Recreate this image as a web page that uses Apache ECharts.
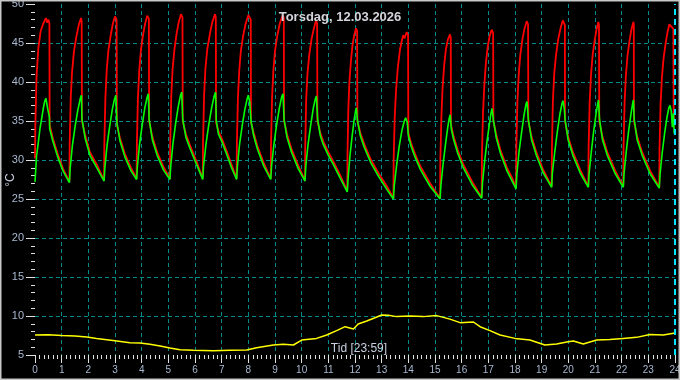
<!DOCTYPE html>
<html>
<head>
<meta charset="utf-8">
<script src="https://cdn.jsdelivr.net/npm/echarts@6/dist/echarts.min.js"></script>
<style>
html,body{margin:0;padding:0;background:#000;}
#chart{width:680px;height:380px;}
</style>
</head>
<body>
<div id="chart"></div>
<script>
const titleText = 'Torsdag, 12.03.2026';
const xAxisName = 'Tid [23:59]';
const yAxisName = '°C';
const nowHour = 23 + 59 / 60;

// Flow temperature (red), [hour, °C]
const flowTemp = [
[0,30.2],[0.01,34],[0.06,40.9],[0.125,44.3],[0.21,46.5],[0.31,47.5],[0.41,48.2],[0.46,47.6],[0.5,48.0],[0.54,47.5],[0.55,34.5],[0.67,32.8],[0.85,30.8],[1.05,28.9],[1.29,27.2],
[1.30,32],[1.34,38],[1.39,41.3],[1.46,43.9],[1.55,45.8],[1.64,47.3],[1.725,48.2],[1.75,47.8],[1.76,35.0],[1.88,33.2],[2.06,31.0],[2.32,29.4],[2.59,27.4],
[2.60,32],[2.64,38],[2.69,41.5],[2.75,44],[2.84,46],[2.92,47.5],[3.0,48.4],[3.06,48.0],[3.07,34.5],[3.19,32.8],[3.37,30.8],[3.6,29.0],[3.81,27.6],
[3.82,32],[3.86,38],[3.91,41.5],[3.97,44],[4.05,46],[4.13,47.5],[4.21,48.5],[4.27,48.1],[4.28,35.0],[4.4,33.0],[4.58,31.0],[4.82,29.1],[5.06,27.6],
[5.07,32],[5.11,38.2],[5.16,41.7],[5.23,44.2],[5.31,46.2],[5.39,47.7],[5.475,48.7],[5.53,48.3],[5.54,35.0],[5.66,33.3],[5.81,31.9],[6.06,29.8],[6.29,27.6],
[6.30,32],[6.34,38.2],[6.39,41.7],[6.46,44.2],[6.56,46.2],[6.65,47.7],[6.75,48.7],[6.78,48.3],[6.79,34.8],[6.88,33.7],[7.0,32.8],[7.19,31.1],[7.37,29.4],[7.56,27.6],
[7.57,32],[7.61,38],[7.66,41.5],[7.72,44],[7.81,46],[7.9,47.5],[8.0,48.6],[8.09,48.0],[8.1,34.8],[8.2,33.5],[8.34,31.8],[8.58,29.6],[8.84,27.6],
[8.85,32],[8.89,38],[8.94,41.5],[9.0,44],[9.09,46],[9.18,47.5],[9.29,48.6],[9.33,48.2],[9.34,35.0],[9.45,33.3],[9.62,31.4],[9.87,29.3],[10.125,27.4],
[10.135,32],[10.17,37.8],[10.22,41.2],[10.29,43.6],[10.37,45.5],[10.46,46.9],[10.54,47.9],[10.58,47.5],[10.59,35.0],[10.7,33.5],[10.81,32.4],[11.0,31.0],[11.19,29.8],[11.44,28.1],[11.71,26.0],
[11.72,31],[11.75,36.5],[11.79,40],[11.85,42.8],[11.91,44.8],[11.97,46.0],[12.04,46.9],[12.08,46.5],[12.09,35.0],[12.2,33.5],[12.35,32.0],[12.6,30.0],[12.9,28.2],[13.2,26.6],[13.44,25.1],
[13.45,30],[13.49,35.5],[13.54,39],[13.61,42],[13.69,44.2],[13.76,45.4],[13.81,46.0],[13.86,45.6],[13.94,46.4],[13.99,46.0],[14.0,33.5],[14.1,32.2],[14.25,30.8],[14.45,29.2],[14.82,27.0],[15.19,25.1],
[15.2,30],[15.24,35.5],[15.28,39],[15.34,42],[15.41,44.2],[15.48,45.4],[15.56,46.1],[15.59,45.7],[15.6,34.5],[15.7,33.0],[15.85,31.3],[16.05,29.5],[16.4,27.2],[16.75,25.2],
[16.76,30.5],[16.8,36],[16.85,39.6],[16.91,42.5],[16.98,44.6],[17.05,45.9],[17.125,46.7],[17.18,46.3],[17.19,35.0],[17.3,33.2],[17.46,31.2],[17.7,29.0],[17.92,27.5],[18.04,26.4],
[18.05,31.5],[18.09,37.5],[18.14,41],[18.2,43.5],[18.28,45.5],[18.36,46.9],[18.44,47.8],[18.49,47.4],[18.5,35.0],[18.62,33.0],[18.8,31.0],[19.05,28.8],[19.375,26.6],
[19.385,31.5],[19.42,37.5],[19.47,41],[19.54,43.5],[19.62,45.5],[19.71,46.9],[19.79,47.9],[19.87,47.3],[19.875,35.0],[19.99,33.0],[20.17,31.0],[20.45,28.7],[20.75,26.6],
[20.76,31.5],[20.8,37.4],[20.85,40.9],[20.91,43.4],[20.99,45.4],[21.06,46.8],[21.125,47.7],[21.15,47.3],[21.16,35.0],[21.28,33.0],[21.46,31.0],[21.75,28.7],[22.06,26.6],
[22.07,31.5],[22.11,37.4],[22.16,40.9],[22.22,43.4],[22.3,45.4],[22.37,46.8],[22.44,47.7],[22.455,47.3],[22.46,35.0],[22.58,33.0],[22.77,31.0],[23.07,28.6],[23.41,26.5],
[23.42,31.5],[23.46,37.2],[23.51,40.6],[23.57,43],[23.65,45],[23.72,46.4],[23.79,47.4],[23.86,47.1],[23.94,46.8],[23.95,35.4],[24,35.0]
];

// Return temperature (green), [hour, °C]
const returnTemp = [
[0,27.2],[0.06,30.6],[0.125,32.3],[0.19,34.1],[0.25,35.3],[0.31,36.6],[0.37,37.6],[0.41,37.9],[0.48,36.5],[0.54,35.5],[0.55,34.0],[0.67,32.4],[0.85,30.4],[1.05,28.6],[1.29,27.1],
[1.32,29.0],[1.4,31.8],[1.5,34.2],[1.6,36.3],[1.7,37.9],[1.74,38.3],[1.76,35.3],[1.88,32.8],[2.06,30.6],[2.32,29.0],[2.59,27.3],
[2.62,29],[2.7,31.8],[2.8,34.3],[2.9,36.5],[2.98,37.8],[3.03,38.3],[3.07,34.8],[3.19,32.4],[3.37,30.4],[3.6,28.6],[3.81,27.5],
[3.84,29.2],[3.92,32],[4.02,34.5],[4.12,36.7],[4.2,38.0],[4.25,38.5],[4.28,35.2],[4.4,32.6],[4.58,30.6],[4.82,28.7],[5.06,27.5],
[5.09,29.2],[5.17,32],[5.27,34.6],[5.37,36.8],[5.45,38.2],[5.5,38.7],[5.54,35.2],[5.66,32.9],[5.81,31.5],[6.06,29.4],[6.29,27.5],
[6.32,29.2],[6.41,32],[6.52,34.6],[6.63,36.8],[6.72,38.2],[6.77,38.7],[6.8,35.0],[6.88,33.3],[7.0,32.4],[7.19,30.7],[7.37,29.0],[7.56,27.5],
[7.59,29.2],[7.67,32],[7.77,34.4],[7.87,36.5],[7.96,37.9],[8.0,38.3],[8.05,37.5],[8.1,35.0],[8.2,33.1],[8.34,31.4],[8.58,29.2],[8.84,27.5],
[8.87,29.2],[8.96,32],[9.06,34.5],[9.16,36.6],[9.25,38.1],[9.3,38.5],[9.34,35.2],[9.45,32.9],[9.62,31.0],[9.87,28.9],[10.125,27.3],
[10.155,29.2],[10.24,32],[10.34,34.5],[10.44,36.7],[10.51,37.8],[10.55,38.2],[10.6,35.2],[10.7,33.1],[10.81,32.0],[11.0,30.6],[11.19,29.4],[11.44,27.7],[11.71,25.9],
[11.74,27.6],[11.81,30.5],[11.89,33],[11.97,35.2],[12.02,36.3],[12.05,36.7],[12.09,35.1],[12.2,33.1],[12.35,31.6],[12.6,29.6],[12.9,27.8],[13.2,26.2],[13.44,25.0],
[13.47,26.6],[13.56,29.3],[13.66,31.8],[13.76,33.8],[13.85,35.0],[13.9,35.4],[13.96,34.8],[14.0,33.1],[14.1,31.8],[14.25,30.4],[14.45,28.8],[14.82,26.6],[15.19,25.0],
[15.22,26.7],[15.3,29.4],[15.39,31.9],[15.47,34.0],[15.53,35.3],[15.57,35.8],[15.61,34.0],[15.7,32.6],[15.85,30.9],[16.05,29.1],[16.4,26.8],[16.75,25.1],
[16.78,27],[16.86,29.8],[16.95,32.4],[17.04,34.6],[17.1,36.0],[17.14,36.6],[17.19,35.1],[17.3,32.8],[17.46,30.8],[17.7,28.6],[17.92,27.1],[18.04,26.3],
[18.07,28.2],[18.15,31],[18.25,33.6],[18.34,35.8],[18.41,37.1],[18.45,37.5],[18.5,35.2],[18.62,32.6],[18.8,30.6],[19.05,28.4],[19.375,26.5],
[19.4,28.3],[19.49,31],[19.59,33.7],[19.68,35.8],[19.76,37.2],[19.8,37.6],[19.85,36.5],[19.88,35.1],[19.99,32.6],[20.17,30.6],[20.45,28.3],[20.75,26.5],
[20.78,28.3],[20.86,31],[20.95,33.7],[21.04,35.9],[21.1,37.2],[21.13,37.7],[21.17,35.2],[21.28,32.6],[21.46,30.6],[21.75,28.3],[22.06,26.5],
[22.09,28.3],[22.17,31],[22.26,33.7],[22.35,35.9],[22.41,37.2],[22.44,37.7],[22.47,35.2],[22.58,32.6],[22.77,30.6],[23.07,28.2],[23.41,26.4],
[23.44,28.2],[23.52,30.9],[23.61,33.4],[23.7,35.5],[23.77,36.7],[23.81,37.0],[23.86,36.3],[23.9,34.2],[23.94,36.0],[23.97,33.5],[24,33.2]
];

// Outdoor temperature (yellow), [hour, °C]
const outdoorTemp = [
[0,7.56],[0.5,7.6],[1.0,7.51],[1.5,7.45],[1.94,7.30],[2.31,7.13],[3.0,6.83],[3.56,6.58],[3.94,6.54],[4.31,6.37],[4.69,6.15],[5.06,5.9],[5.44,5.68],[5.94,5.6],[6.69,5.55],[7.31,5.6],[7.94,5.64],[8.31,5.94],[8.94,6.28],[9.31,6.37],[9.69,6.28],[10.0,6.92],[10.56,7.13],[10.94,7.56],[11.31,8.12],[11.63,8.63],[11.94,8.33],[12.12,8.97],[12.44,9.36],[12.75,9.78],[13.0,10.13],[13.25,10.09],[13.56,9.92],[14.06,10.0],[14.56,9.92],[15.06,10.05],[15.56,9.6],[15.94,9.15],[16.44,9.23],[16.69,8.63],[17.06,8.12],[17.44,7.56],[18.0,7.13],[18.56,6.92],[19.12,6.28],[19.56,6.41],[19.94,6.67],[20.19,6.79],[20.56,6.41],[21.06,6.92],[21.56,7.0],[22.06,7.13],[22.56,7.26],[23.06,7.64],[23.56,7.56],[24,7.82]
];

const labelColor = '#a9b8d0';
const gridColor = '#008b8b';
const tickColor = '#e0e0e0';
const font = 'Liberation Sans, Arial, sans-serif';

const chart = echarts.init(document.getElementById('chart'));
chart.setOption({
  animation: false,
  backgroundColor: '#000',
  title: {
    text: titleText, left: 'center', top: 11, padding: 0,
    textStyle: { color: '#d4d4dc', fontSize: 13, fontWeight: 'bold', fontFamily: font }
  },
  grid: { left: 35, right: 5, top: 4, bottom: 25, containLabel: false, outerBoundsMode: 'none' },
  xAxis: {
    type: 'value', min: 0, max: 24, interval: 1,
    axisLine: { show: false },
    axisTick: { show: true, length: 8, lineStyle: { color: tickColor, width: 1 } },
    minorTick: { show: true, splitNumber: 6, length: 4, lineStyle: { color: tickColor, width: 1 } },
    axisLabel: { color: labelColor, fontSize: 10, margin: 10, fontFamily: font, hideOverlap: false },
    splitLine: { show: true, showMinLine: false, showMaxLine: false, lineStyle: { color: gridColor, type: [4, 3], width: 1 } }
  },
  yAxis: {
    type: 'value', min: 5, max: 50, interval: 5,
    axisLine: { show: false },
    axisTick: { show: true, length: 9, lineStyle: { color: tickColor, width: 1 } },
    minorTick: { show: true, splitNumber: 5, length: 4, lineStyle: { color: tickColor, width: 1 } },
    axisLabel: { color: labelColor, fontSize: 11, margin: 11, fontFamily: font },
    splitLine: { show: true, showMinLine: false, showMaxLine: false, lineStyle: { color: gridColor, type: [4, 3], width: 1 } }
  },
  graphic: [
    {
      type: 'text', silent: true, z: 50, x: 359, y: 349,
      style: { text: xAxisName, fill: '#c8d0e0', fontSize: 12, fontFamily: font, align: 'center', verticalAlign: 'middle' }
    },
    {
      type: 'text', silent: true, z: 50, x: 11, y: 180, rotation: Math.PI / 2,
      style: { text: yAxisName, fill: '#c8d0e0', fontSize: 12, fontFamily: font, align: 'center', verticalAlign: 'middle' }
    },
    {
      type: 'rect', silent: true, z: 100,
      shape: { x: 0.5, y: 0.5, width: 679, height: 379 },
      style: { fill: 'none', stroke: '#c8c8c8', lineWidth: 2 }
    }
  ],
  series: [
    { name: 'Vorlauf', type: 'line', data: flowTemp, showSymbol: false, lineStyle: { color: '#ff0000', width: 1.8 }, itemStyle: { color: '#ff0000' }, z: 2 },
    { name: 'Rücklauf', type: 'line', data: returnTemp, showSymbol: false, lineStyle: { color: '#00ff00', width: 1.6 }, itemStyle: { color: '#00ff00' }, z: 3 },
    { name: 'Außen', type: 'line', data: outdoorTemp, showSymbol: false, lineStyle: { color: '#ffff00', width: 1.5 }, itemStyle: { color: '#ffff00' }, z: 4,
      markLine: { silent: true, symbol: 'none', label: { show: false },
        lineStyle: { color: '#00e5ff', type: [6, 4], width: 2 },
        data: [{ xAxis: nowHour }] } }
  ]
});
</script>
</body>
</html>
